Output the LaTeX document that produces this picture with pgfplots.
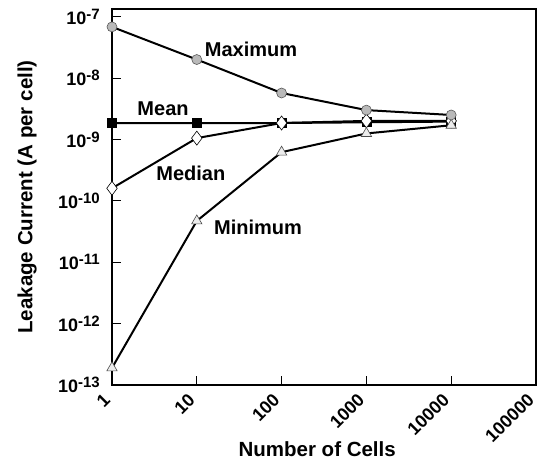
\documentclass[border=0pt]{standalone}
\usepackage{fontspec}
\setmainfont{Liberation Sans}
\usepackage{pgfplots}
\pgfplotsset{compat=1.18}
\newcommand{\pw}[1]{\textbf{10\raisebox{5pt}{\fontsize{15}{16}\selectfont -#1}}}
\begin{document}
\begin{tikzpicture}
\useasboundingbox (-112pt,-77pt) rectangle (430pt,385pt);
\begin{axis}[
  at={(0pt,0pt)}, anchor=south west,
  scale only axis,
  width=424pt, height=376pt,
  xmode=log, ymode=log,
  xmin=1, xmax=100000,
  ymin=1e-13, ymax=1.33e-7,
  axis line style={line width=1.3pt},
  xtick={1,10,100,1000,10000,100000},
  xticklabels={\textbf{1},\textbf{10},\textbf{100},\textbf{1000},\textbf{10000},\textbf{100000}},
  ytick={1e-13,1e-12,1e-11,1e-10,1e-9,1e-8,1e-7},
  yticklabels={\pw{13},\pw{12},\pw{11},\pw{10},\pw{9},\pw{8},\pw{7}},
  minor tick num=0,
  tick pos=left,
  tick align=inside,
  major tick length=9pt,
  tick style={line width=1pt, black},
  minor tick style={draw=none},
  tick label style={font=\fontsize{18}{20}\selectfont},
  xticklabel style={xshift=1pt, yshift=-16.5pt, rotate=45, anchor=south east, inner sep=1pt},
  yticklabel style={inner sep=2pt, xshift=-10pt},
  xlabel={\textbf{Number of Cells}},
  ylabel={\textbf{Leakage Current (A per cell)}},
  label style={font=\fontsize{20.5}{22}\selectfont},
  xlabel style={at={(axis description cs:0.484,0)}, anchor=center, yshift=-64pt},
  ylabel style={at={(axis description cs:0,0.5)}, anchor=center, yshift=85pt},
]
% Mean
\addplot[line width=2pt, black, mark=square*, mark size=4.5pt, mark options={fill=black, draw=black, line width=0.6pt}] coordinates {
  (1,1.85e-9) (10,1.85e-9) (100,1.85e-9) (1000,1.9e-9) (10000,1.95e-9)};
% Median
\addplot[line width=2pt, black, mark=diamond*, mark size=7pt, mark options={fill=white, draw=black, line width=0.6pt}] coordinates {
  (1,1.6e-10) (10,1.05e-9) (100,1.85e-9) (1000,2.0e-9) (10000,2.0e-9)};
% Minimum
\addplot[line width=2pt, black, mark=triangle*, mark size=6pt, mark options={fill=gray!15, draw=black!70, line width=0.6pt}] coordinates {
  (1,1.9e-13) (10,4.7e-11) (100,6.2e-10) (1000,1.25e-9) (10000,1.7e-9)};
% Maximum
\addplot[line width=2pt, black, mark=*, mark size=5pt, mark options={fill=gray!55, draw=gray!70!black, line width=0.6pt}] coordinates {
  (1,6.8e-8) (10,2.0e-8) (100,5.7e-9) (1000,3.0e-9) (10000,2.5e-9)};
\node[font=\fontsize{20}{22}\selectfont\bfseries] at (axis cs:43.6,2.95e-8) {Maximum};
\node[font=\fontsize{20}{22}\selectfont\bfseries] at (axis cs:4.0,3.2e-9) {Mean};
\node[font=\fontsize{20}{22}\selectfont\bfseries] at (axis cs:8.5,2.8e-10) {Median};
\node[font=\fontsize{20}{22}\selectfont\bfseries] at (axis cs:52.7,3.7e-11) {Minimum};
\end{axis}
\end{tikzpicture}
\end{document}
